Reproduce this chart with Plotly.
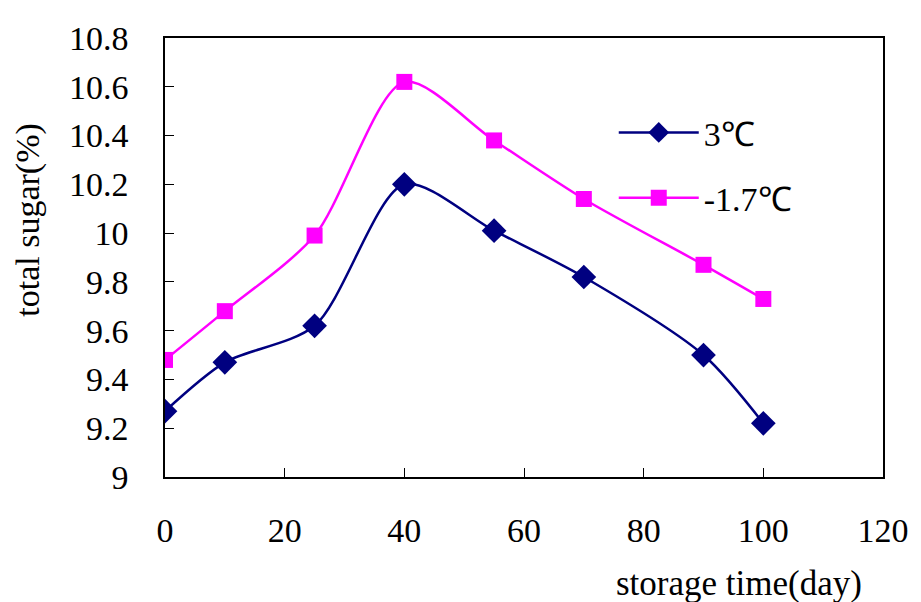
import plotly.graph_objects as go

days = [0, 10, 25, 40, 55, 70, 90, 100]
sugar_3c = [9.27, 9.47, 9.62, 10.20, 10.01, 9.82, 9.50, 9.22]
sugar_m17c = [9.48, 9.68, 9.99, 10.62, 10.38, 10.14, 9.87, 9.73]
series_names = ["3℃", "-1.7℃"]
x_ticks = [0, 20, 40, 60, 80, 100, 120]
y_ticks = [9, 9.2, 9.4, 9.6, 9.8, 10, 10.2, 10.4, 10.6, 10.8]
y_ticklabels = ["9", "9.2", "9.4", "9.6", "9.8", "10", "10.2", "10.4", "10.6", "10.8"]

FONT = "Liberation Serif"

fig = go.Figure()
fig.add_trace(go.Scatter(
    x=days, y=sugar_3c, name=series_names[0], mode="lines+markers",
    line=dict(color="#000080", width=2.5, shape="spline", smoothing=0.8),
    marker=dict(symbol="diamond", size=19, color="#000080"),
    legendgroup="a",
))
fig.add_trace(go.Scatter(
    x=days, y=sugar_m17c, name=series_names[1], mode="lines+markers",
    line=dict(color="#FF00FF", width=2.5, shape="spline", smoothing=0.8),
    marker=dict(symbol="square", size=16, color="#FF00FF"),
    legendgroup="b",
))

fig.update_layout(
    width=913, height=594,
    margin=dict(l=157, r=28, t=21, b=125),
    paper_bgcolor="white", plot_bgcolor="white",
    font=dict(family=FONT, size=34, color="black"),
    showlegend=True,
    legend=dict(x=0.625, y=0.85, xanchor="left", yanchor="top",
                bgcolor="rgba(0,0,0,0)", font=dict(size=34, family=FONT),
                tracegroupgap=18, itemwidth=80),
    xaxis=dict(range=[0, 120], tickvals=x_ticks, ticks="inside", ticklen=9,
               tickcolor="black", showline=True, linecolor="black", linewidth=1.5,
               mirror=True, showgrid=False, zeroline=False,
               tickfont=dict(size=34, family=FONT), ticklabelstandoff=22),
    yaxis=dict(range=[9, 10.8], tickvals=y_ticks, ticktext=y_ticklabels,
               ticks="inside", ticklen=9, tickcolor="black", showline=True,
               linecolor="black", linewidth=1.5, mirror=True, showgrid=False,
               zeroline=False, tickfont=dict(size=34, family=FONT),
               ticklabelstandoff=28),
    annotations=[
        dict(text="storage time(day)", xref="paper", yref="paper",
             x=0.8, y=-0.243, xanchor="center", yanchor="middle",
             showarrow=False, font=dict(size=35, family=FONT)),
        dict(text="total sugar(%)", xref="paper", yref="paper",
             x=-0.19, y=0.585, xanchor="center", yanchor="middle",
             textangle=-90, showarrow=False, font=dict(size=34, family=FONT)),
    ],
)

fig.write_html("out.html")
